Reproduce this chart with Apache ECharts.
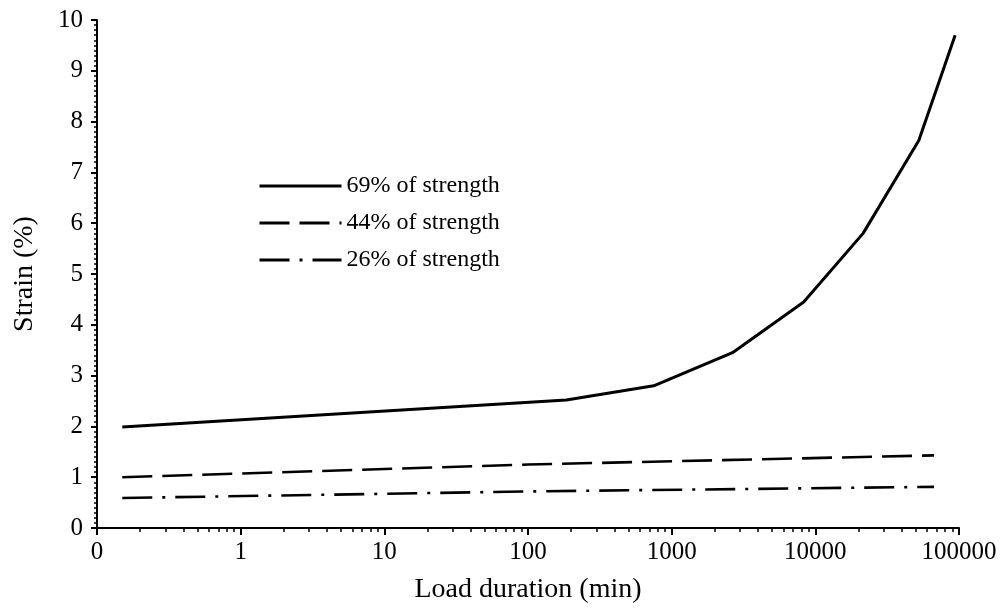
<!DOCTYPE html>
<html>
<head>
<meta charset="utf-8">
<script src="https://cdn.jsdelivr.net/npm/echarts@6/dist/echarts.min.js"></script>
<style>
  html, body { margin: 0; padding: 0; background: #fff; }
  #chart { width: 1003px; height: 612px; }
</style>
</head>
<body>
<div id="chart"></div>
<script>
// load duration (min) and strain (%)
const seriesNames = ['69% of strength', '44% of strength', '26% of strength'];
const x69 = [0.15, 185, 750, 2650, 8300, 21500, 52500, 94000];
const y69 = [1.99, 2.52, 2.8, 3.45, 4.45, 5.8, 7.63, 9.7];
const x44 = [0.15, 100, 67000];
const y44 = [1.0, 1.25, 1.43];
const x26 = [0.15, 100, 67000];
const y26 = [0.59, 0.72, 0.81];
const yTicks = [0, 1, 2, 3, 4, 5, 6, 7, 8, 9, 10];

const font = 'Liberation Serif';
const pairs = (xs, ys) => xs.map((x, i) => [x, ys[i]]);

const chart = echarts.init(document.getElementById('chart'));

const option = {
  animation: false,
  backgroundColor: '#fff',
  textStyle: { fontFamily: font, color: '#000' },
  grid: { left: 97, right: 44, top: 20, bottom: 84 },
  legend: {
    left: 253,
    top: 169,
    orient: 'vertical',
    itemWidth: 82,
    itemHeight: 14,
    itemGap: 13,
    itemStyle: { opacity: 0 },
    lineStyle: { width: 3 },
    textStyle: { fontFamily: font, fontSize: 24, color: '#000' },
    data: seriesNames
  },
  xAxis: {
    type: 'log',
    logBase: 10,
    min: 0.1,
    max: 100000,
    interval: 1,
    name: 'Load duration (min)',
    nameLocation: 'middle',
    nameGap: 48,
    nameTextStyle: { fontFamily: font, fontSize: 28, color: '#000' },
    axisLine: { lineStyle: { color: '#000', width: 2 } },
    axisTick: { show: true, inside: false, length: 7, lineStyle: { color: '#000', width: 2 } },
    minorTick: { show: true, splitNumber: 9, length: 4, lineStyle: { color: '#000', width: 1.5 } },
    splitLine: { show: false },
    axisLabel: {
      fontFamily: font, fontSize: 25, color: '#000', margin: 12,
      formatter: v => (v < 1 ? '0' : String(Math.round(v)))
    }
  },
  yAxis: {
    type: 'value',
    min: yTicks[0],
    max: yTicks[yTicks.length - 1],
    interval: 1,
    name: 'Strain (%)',
    nameLocation: 'middle',
    nameGap: 58,
    nameTextStyle: { fontFamily: font, fontSize: 28, color: '#000' },
    axisLine: { show: true, lineStyle: { color: '#000', width: 2 } },
    axisTick: { show: true, length: 6, lineStyle: { color: '#000', width: 2 } },
    minorTick: { show: true, splitNumber: 10, length: 3, lineStyle: { color: '#000', width: 1.5 } },
    splitLine: { show: false },
    axisLabel: { fontFamily: font, fontSize: 25, color: '#000', margin: 14 }
  },
  series: [
    {
      name: seriesNames[0], type: 'line', symbol: 'none',
      data: pairs(x69, y69),
      lineStyle: { color: '#000', width: 3, type: 'solid' }, itemStyle: { color: '#000' }
    },
    {
      name: seriesNames[1], type: 'line', symbol: 'none',
      data: pairs(x44, y44),
      lineStyle: { color: '#000', width: 2.6, type: [30, 10] }, itemStyle: { color: '#000' }
    },
    {
      name: seriesNames[2], type: 'line', symbol: 'none',
      data: pairs(x26, y26),
      lineStyle: { color: '#000', width: 2.6, type: [30, 10, 3, 10] }, itemStyle: { color: '#000' }
    }
  ]
};

chart.setOption(option);
</script>
</body>
</html>
